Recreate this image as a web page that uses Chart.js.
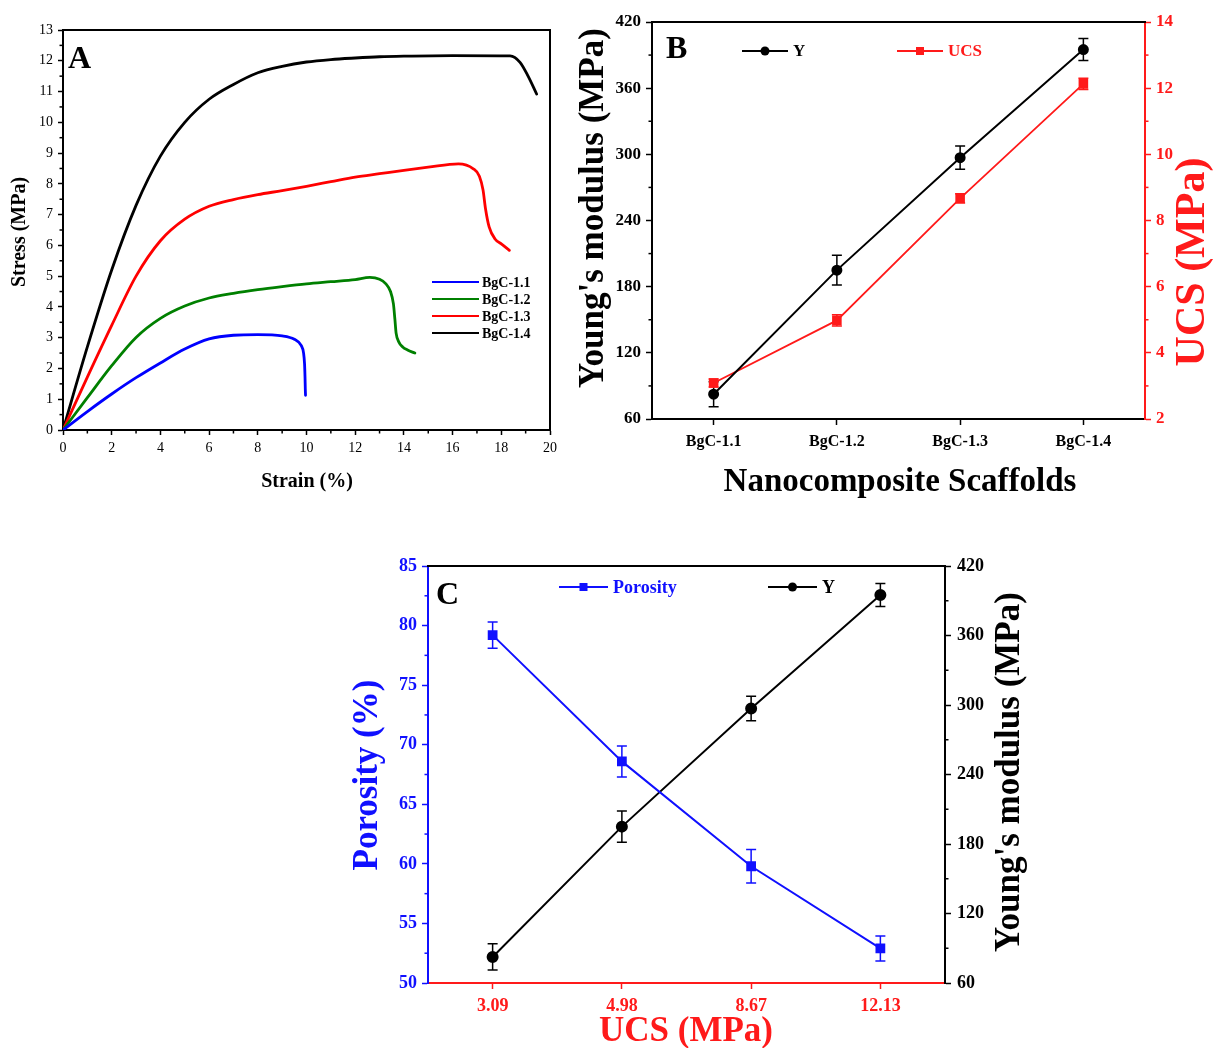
<!DOCTYPE html>
<html>
<head>
<meta charset="utf-8">
<script src="https://cdn.jsdelivr.net/npm/chart.js@4.4.1/dist/chart.umd.min.js"></script>
<style>
  html, body { margin: 0; padding: 0; background: #fff; }
  body { width: 1213px; height: 1048px; position: relative; overflow: hidden; }
  canvas { position: absolute; }
  #chartA { left: 0; top: 0; }
  #chartB { left: 560px; top: 0; }
  #chartC { left: 340px; top: 540px; }
</style>
</head>
<body>
<canvas id="chartA" width="580" height="500"></canvas>
<canvas id="chartB" width="653" height="500"></canvas>
<canvas id="chartC" width="700" height="508"></canvas>
<script>
// ---- panel A: stress-strain curves ----
const strain11 = [0, 1, 2, 3, 4, 5, 6, 7, 8, 9, 9.5, 9.78, 9.88, 9.92, 9.94, 9.95, 9.96];
const stress11 = [0, 0.6, 1.17, 1.7, 2.18, 2.63, 2.96, 3.08, 3.1, 3.06, 2.95, 2.75, 2.5, 2.15, 1.7, 1.35, 1.13];

const strain12 = [0, 1, 2, 3, 4, 5, 6, 7, 8, 9, 10, 11, 12, 12.6, 13.0, 13.25, 13.45, 13.57, 13.63, 13.68, 13.8, 13.95, 14.15, 14.45];
const stress12 = [0, 1.05, 2.09, 3.01, 3.63, 4.03, 4.29, 4.44, 4.56, 4.66, 4.75, 4.82, 4.89, 4.96, 4.9, 4.76, 4.5, 4.1, 3.6, 3.15, 2.85, 2.7, 2.6, 2.5];

const strain13 = [0, 1, 2, 3, 4, 5, 6, 7, 8, 9, 10, 11, 12, 13, 14, 15, 16.24, 16.85, 17.1, 17.25, 17.35, 17.5, 17.75, 18.0, 18.33];
const stress13 = [0, 1.72, 3.4, 5.0, 6.15, 6.85, 7.27, 7.49, 7.65, 7.78, 7.92, 8.07, 8.22, 8.33, 8.44, 8.54, 8.65, 8.49, 8.25, 7.8, 7.2, 6.6, 6.2, 6.05, 5.84];

const strain14 = [0, 1, 2, 3, 4, 5, 6, 7, 8, 9, 10, 11, 12, 13, 14, 16, 18.36, 18.77, 19.1, 19.45];
const stress14 = [0, 2.7, 5.2, 7.3, 8.9, 10.0, 10.75, 11.23, 11.61, 11.82, 11.96, 12.04, 12.09, 12.13, 12.15, 12.17, 12.16, 11.95, 11.5, 10.92];

// ---- panel B / C: scaffold properties ----
const scaffolds = ["BgC-1.1", "BgC-1.2", "BgC-1.3", "BgC-1.4"];
const youngs = [82.5, 195, 297, 395];
const youngsErr = [11.3, 13.5, 10.5, 10];
const ucs = [3.09, 4.98, 8.67, 12.13];
const ucsErr = [0.12, 0.17, 0.14, 0.17];
const ucsLabels = ["3.09", "4.98", "8.67", "12.13"];
const porosity = [79.2, 68.6, 59.8, 52.9];
const porosityErr = [1.1, 1.3, 1.4, 1.05];

const SERIF = "'Liberation Serif', 'Times New Roman', serif";
const BLUE = "#1010ff";
const RED = "#ff1a1a";

function pts(xs, ys) {
    return xs.map((x, i) => ({ x: x, y: ys[i] }));
}

function fixWidth(w) {
    return (scale) => { scale.width = w; };
}

function fixHeight(h) {
    return (scale) => { scale.height = h; };
}

// error bars, frame, minor ticks, panel letter, legend, axis titles
const deco = {
    id: "deco",
    beforeDatasetsDraw(chart) {
        const ctx = chart.ctx;
        chart.data.datasets.forEach((ds, i) => {
            if (!ds.errors) return;
            const meta = chart.getDatasetMeta(i);
            const ys = chart.scales[ds.yAxisID || "y"];
            ctx.save();
            ctx.strokeStyle = ds.borderColor;
            ctx.lineWidth = 1.5;
            meta.data.forEach((pt, j) => {
                const top = ys.getPixelForValue(ds.data[j] + ds.errors[j]);
                const bot = ys.getPixelForValue(ds.data[j] - ds.errors[j]);
                ctx.beginPath();
                ctx.moveTo(pt.x, top);
                ctx.lineTo(pt.x, bot);
                ctx.moveTo(pt.x - 5, top);
                ctx.lineTo(pt.x + 5, top);
                ctx.moveTo(pt.x - 5, bot);
                ctx.lineTo(pt.x + 5, bot);
                ctx.stroke();
            });
            ctx.restore();
        });
    },
    afterDraw(chart, args, opts) {
        const ctx = chart.ctx;
        const a = chart.chartArea;
        ctx.save();

        // top / right frame lines
        ctx.lineWidth = 2;
        if (opts.frameTop) {
            ctx.strokeStyle = opts.frameTop;
            ctx.beginPath();
            ctx.moveTo(a.left - 1, a.top);
            ctx.lineTo(a.right + 1, a.top);
            ctx.stroke();
        }
        if (opts.frameRight) {
            ctx.strokeStyle = opts.frameRight;
            ctx.beginPath();
            ctx.moveTo(a.right, a.top);
            ctx.lineTo(a.right, a.bottom);
            ctx.stroke();
        }

        // minor ticks halfway between the major ones
        (opts.minor || []).forEach((id) => {
            const s = chart.scales[id];
            const vals = s.ticks.map((t) => t.value);
            ctx.strokeStyle = s.options.grid.tickColor;
            ctx.lineWidth = 1.5;
            for (let k = 0; k < vals.length - 1; k++) {
                const p = s.getPixelForValue((vals[k] + vals[k + 1]) / 2);
                ctx.beginPath();
                if (s.position === "left") { ctx.moveTo(a.left - 3.5, p); ctx.lineTo(a.left, p); }
                if (s.position === "right") { ctx.moveTo(a.right, p); ctx.lineTo(a.right + 3.5, p); }
                if (s.position === "bottom") { ctx.moveTo(p, a.bottom); ctx.lineTo(p, a.bottom + 3.5); }
                ctx.stroke();
            }
        });

        // panel letter
        if (opts.letter) {
            ctx.fillStyle = "#000";
            ctx.font = "bold 32px " + SERIF;
            ctx.textAlign = "left";
            ctx.textBaseline = "alphabetic";
            ctx.fillText(opts.letter.text, a.left + opts.letter.dx, a.top + opts.letter.dy);
        }

        // legend
        (opts.legend || []).forEach((it) => {
            const y = a.top + it.dy;
            ctx.strokeStyle = it.color;
            ctx.lineWidth = it.lineWidth || 2;
            ctx.beginPath();
            ctx.moveTo(a.left + it.x1, y);
            ctx.lineTo(a.left + it.x2, y);
            ctx.stroke();
            const mx = a.left + (it.x1 + it.x2) / 2;
            ctx.fillStyle = it.color;
            if (it.marker === "circle") {
                ctx.beginPath();
                ctx.arc(mx, y, 4.5, 0, Math.PI * 2);
                ctx.fill();
            } else if (it.marker === "rect") {
                ctx.fillRect(mx - 4, y - 4, 8, 8);
            }
            ctx.fillStyle = it.textColor || it.color;
            ctx.font = it.font;
            ctx.textAlign = "left";
            ctx.textBaseline = "middle";
            ctx.fillText(it.text, a.left + it.x2 + it.gap, y + 1);
        });

        // axis titles
        (opts.titles || []).forEach((t) => {
            ctx.save();
            ctx.translate(t.x, t.y);
            if (t.rot) ctx.rotate(t.rot);
            ctx.fillStyle = t.color || "#000";
            ctx.font = t.font;
            ctx.textAlign = "center";
            ctx.textBaseline = "middle";
            ctx.fillText(t.text, 0, 0);
            ctx.restore();
        });

        ctx.restore();
    }
};

Chart.register(deco);
Chart.defaults.font.family = SERIF;
Chart.defaults.color = "#000";

function axis(extra) {
    const base = {
        border: { color: "#000", width: 2 },
        grid: { drawOnChartArea: false, drawTicks: true, tickLength: 6, tickColor: "#000", tickWidth: 1.5 },
        title: { display: false }
    };
    return Object.assign(base, extra);
}

// ---------------- A ----------------
new Chart(document.getElementById("chartA"), {
    type: "line",
    data: {
        datasets: [
            { label: "BgC-1.1", data: pts(strain11, stress11), borderColor: "#0000ff" },
            { label: "BgC-1.2", data: pts(strain12, stress12), borderColor: "#008000" },
            { label: "BgC-1.3", data: pts(strain13, stress13), borderColor: "#ff0000" },
            { label: "BgC-1.4", data: pts(strain14, stress14), borderColor: "#000000" }
        ]
    },
    options: {
        responsive: false,
        animation: false,
        devicePixelRatio: 1,
        layout: { padding: { top: 30, right: 30, left: 0, bottom: 0 } },
        elements: {
            point: { radius: 0 },
            line: { borderWidth: 2.8, cubicInterpolationMode: "monotone", fill: false, borderCapStyle: "round", borderJoinStyle: "round" }
        },
        scales: {
            x: axis({
                type: "linear", min: 0, max: 20,
                ticks: { stepSize: 2, padding: 5, font: { size: 14 }, color: "#000" },
                grid: { drawOnChartArea: false, tickLength: 5, tickColor: "#000", tickWidth: 1.5 },
                afterFit: fixHeight(70)
            }),
            y: axis({
                type: "linear", min: 0, max: 13,
                ticks: { stepSize: 1, padding: 5, font: { size: 14 }, color: "#000" },
                grid: { drawOnChartArea: false, tickLength: 5, tickColor: "#000", tickWidth: 1.5 },
                afterFit: fixWidth(63)
            })
        },
        plugins: {
            legend: { display: false },
            tooltip: { enabled: false },
            deco: {
                frameTop: "#000",
                frameRight: "#000",
                minor: ["x", "y"],
                letter: { text: "A", dx: 5, dy: 38 },
                legend: [
                    { text: "BgC-1.1", color: "#0000ff", textColor: "#000", x1: 369, x2: 416, dy: 252, gap: 3, font: "bold 14px " + SERIF, lineWidth: 2.2 },
                    { text: "BgC-1.2", color: "#008000", textColor: "#000", x1: 369, x2: 416, dy: 269, gap: 3, font: "bold 14px " + SERIF, lineWidth: 2.2 },
                    { text: "BgC-1.3", color: "#ff0000", textColor: "#000", x1: 369, x2: 416, dy: 286, gap: 3, font: "bold 14px " + SERIF, lineWidth: 2.2 },
                    { text: "BgC-1.4", color: "#000000", textColor: "#000", x1: 369, x2: 416, dy: 303, gap: 3, font: "bold 14px " + SERIF, lineWidth: 2.2 }
                ],
                titles: [
                    { text: "Stress (MPa)", x: 20, y: 232, rot: -Math.PI / 2, font: "bold 20px " + SERIF },
                    { text: "Strain (%)", x: 307, y: 482, font: "bold 20px " + SERIF }
                ]
            }
        }
    }
});

// ---------------- B ----------------
new Chart(document.getElementById("chartB"), {
    type: "line",
    data: {
        labels: scaffolds,
        datasets: [
            {
                label: "Y", data: youngs, errors: youngsErr, yAxisID: "y",
                borderColor: "#000", backgroundColor: "#000", borderWidth: 2,
                pointStyle: "circle", pointRadius: 4.5
            },
            {
                label: "UCS", data: ucs, errors: ucsErr, yAxisID: "y1",
                borderColor: RED, backgroundColor: RED, borderWidth: 1.8,
                pointStyle: "rect", pointRadius: 5.5
            }
        ]
    },
    options: {
        responsive: false,
        animation: false,
        devicePixelRatio: 1,
        layout: { padding: { top: 22, right: 0, left: 0, bottom: 0 } },
        elements: { line: { tension: 0 } },
        scales: {
            x: axis({
                type: "category", offset: true,
                ticks: { padding: 7, font: { size: 16, weight: "bold" }, color: "#000" },
                afterFit: fixHeight(81)
            }),
            y: axis({
                type: "linear", position: "left", min: 60, max: 420,
                ticks: { stepSize: 60, padding: 5, font: { size: 17, weight: "bold" }, color: "#000" },
                afterFit: fixWidth(92)
            }),
            y1: axis({
                type: "linear", position: "right", min: 2, max: 14,
                border: { color: RED, width: 2 },
                grid: { drawOnChartArea: false, tickLength: 6, tickColor: RED, tickWidth: 1.5 },
                ticks: { stepSize: 2, padding: 5, font: { size: 17, weight: "bold" }, color: RED },
                afterFit: fixWidth(68)
            })
        },
        plugins: {
            legend: { display: false },
            tooltip: { enabled: false },
            deco: {
                frameTop: "#000",
                minor: ["y", "y1"],
                letter: { text: "B", dx: 14, dy: 36 },
                legend: [
                    { text: "Y", color: "#000", marker: "circle", x1: 90, x2: 136, dy: 29, gap: 5, font: "bold 17px " + SERIF },
                    { text: "UCS", color: RED, marker: "rect", x1: 245, x2: 291, dy: 29, gap: 5, font: "bold 17px " + SERIF }
                ],
                titles: [
                    { text: "Young's modulus (MPa)", x: 34, y: 208, rot: -Math.PI / 2, font: "bold 35px " + SERIF },
                    { text: "UCS (MPa)", x: 633, y: 262, rot: -Math.PI / 2, color: RED, font: "bold 42px " + SERIF },
                    { text: "Nanocomposite Scaffolds", x: 340, y: 482, font: "bold 33px " + SERIF }
                ]
            }
        }
    }
});

// ---------------- C ----------------
new Chart(document.getElementById("chartC"), {
    type: "line",
    data: {
        labels: ucsLabels,
        datasets: [
            {
                label: "Porosity", data: porosity, errors: porosityErr, yAxisID: "y",
                borderColor: BLUE, backgroundColor: BLUE, borderWidth: 2,
                pointStyle: "rect", pointRadius: 5.5
            },
            {
                label: "Y", data: youngs, errors: youngsErr, yAxisID: "y1",
                borderColor: "#000", backgroundColor: "#000", borderWidth: 2,
                pointStyle: "circle", pointRadius: 5
            }
        ]
    },
    options: {
        responsive: false,
        animation: false,
        devicePixelRatio: 1,
        layout: { padding: { top: 26, right: 0, left: 0, bottom: 0 } },
        elements: { line: { tension: 0 } },
        scales: {
            x: axis({
                type: "category", offset: true,
                border: { color: RED, width: 2 },
                grid: { drawOnChartArea: false, tickLength: 6, tickColor: RED, tickWidth: 1.5 },
                ticks: { padding: 7, font: { size: 18, weight: "bold" }, color: RED },
                afterFit: fixHeight(65)
            }),
            y: axis({
                type: "linear", position: "left", min: 50, max: 85,
                border: { color: BLUE, width: 2 },
                grid: { drawOnChartArea: false, tickLength: 6, tickColor: BLUE, tickWidth: 1.5 },
                ticks: { stepSize: 5, padding: 5, font: { size: 18, weight: "bold" }, color: BLUE },
                afterFit: fixWidth(88)
            }),
            y1: axis({
                type: "linear", position: "right", min: 60, max: 420,
                ticks: { stepSize: 60, padding: 6, font: { size: 18, weight: "bold" }, color: "#000" },
                afterFit: fixWidth(95)
            })
        },
        plugins: {
            legend: { display: false },
            tooltip: { enabled: false },
            deco: {
                frameTop: "#000",
                minor: ["y", "y1"],
                letter: { text: "C", dx: 8, dy: 38 },
                legend: [
                    { text: "Porosity", color: BLUE, marker: "rect", x1: 131, x2: 180, dy: 21, gap: 5, font: "bold 18px " + SERIF },
                    { text: "Y", color: "#000", marker: "circle", x1: 340, x2: 389, dy: 21, gap: 5, font: "bold 18px " + SERIF }
                ],
                titles: [
                    { text: "Porosity (%)", x: 28, y: 235, rot: -Math.PI / 2, color: BLUE, font: "bold 35px " + SERIF },
                    { text: "Young's modulus (MPa)", x: 670, y: 232, rot: -Math.PI / 2, font: "bold 35px " + SERIF },
                    { text: "UCS (MPa)", x: 346, y: 492, color: RED, font: "bold 35px " + SERIF }
                ]
            }
        }
    }
});
</script>
</body>
</html>
